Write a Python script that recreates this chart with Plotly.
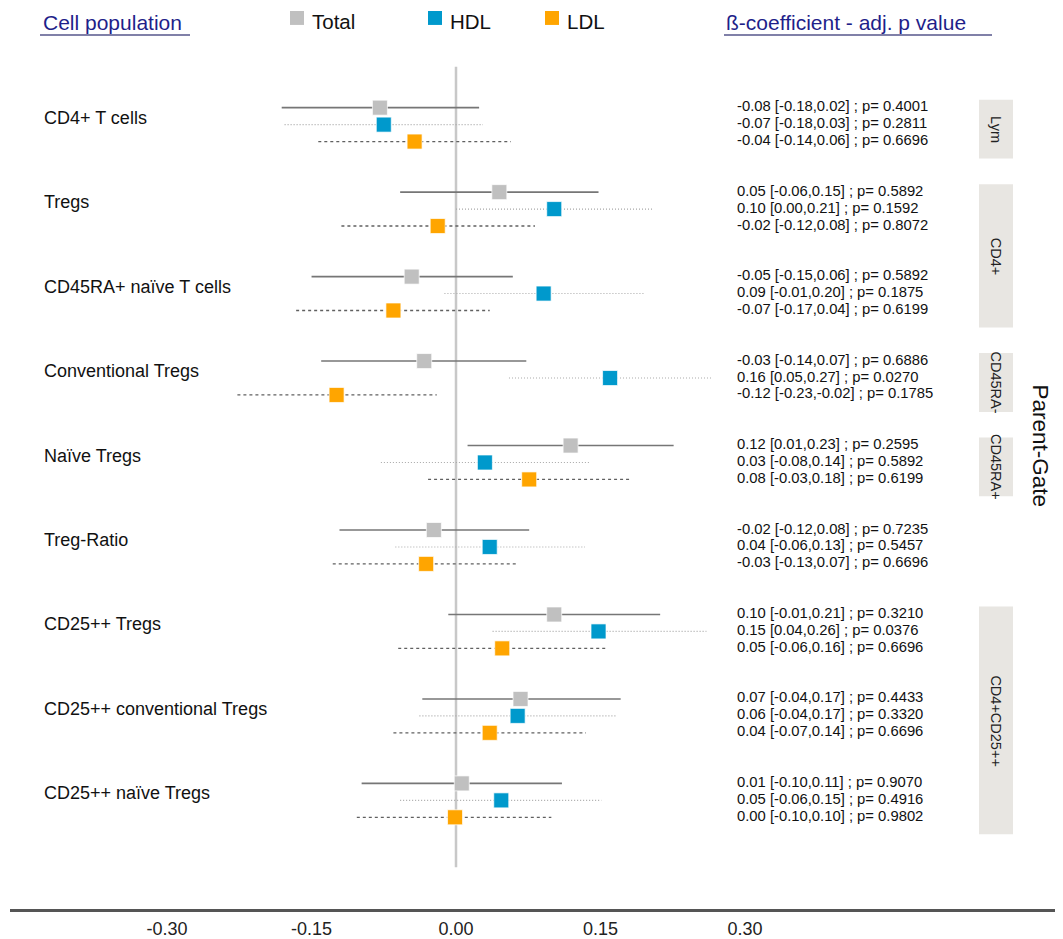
import plotly.graph_objects as go

# ---------------- data ----------------
cell_populations = ["CD4+ T cells", "Tregs", "CD45RA+ naïve T cells", "Conventional Tregs",
                    "Naïve Tregs", "Treg-Ratio", "CD25++ Tregs", "CD25++ conventional Tregs",
                    "CD25++ naïve Tregs"]
series_names = ["Total", "HDL", "LDL"]

total_est = [-0.079, 0.045, -0.046, -0.033, 0.119, -0.023, 0.102, 0.067, 0.006]
total_lo = [-0.181, -0.058, -0.150, -0.140, 0.012, -0.121, -0.008, -0.035, -0.098]
total_hi = [0.024, 0.148, 0.059, 0.073, 0.226, 0.076, 0.212, 0.171, 0.110]

hdl_est = [-0.075, 0.102, 0.091, 0.160, 0.030, 0.035, 0.148, 0.064, 0.047]
hdl_lo = [-0.178, 0.000, -0.012, 0.055, -0.078, -0.063, 0.038, -0.038, -0.058]
hdl_hi = [0.028, 0.204, 0.196, 0.266, 0.138, 0.134, 0.260, 0.166, 0.151]

ldl_est = [-0.043, -0.019, -0.065, -0.124, 0.076, -0.031, 0.048, 0.035, -0.001]
ldl_lo = [-0.143, -0.119, -0.166, -0.227, -0.029, -0.128, -0.060, -0.065, -0.103]
ldl_hi = [0.057, 0.082, 0.035, -0.020, 0.182, 0.063, 0.155, 0.135, 0.099]

total_text = ["-0.08 [-0.18,0.02] ; p= 0.4001", "0.05 [-0.06,0.15] ; p= 0.5892",
              "-0.05 [-0.15,0.06] ; p= 0.5892", "-0.03 [-0.14,0.07] ; p= 0.6886",
              "0.12 [0.01,0.23] ; p= 0.2595", "-0.02 [-0.12,0.08] ; p= 0.7235",
              "0.10 [-0.01,0.21] ; p= 0.3210", "0.07 [-0.04,0.17] ; p= 0.4433",
              "0.01 [-0.10,0.11] ; p= 0.9070"]
hdl_text = ["-0.07 [-0.18,0.03] ; p= 0.2811", "0.10 [0.00,0.21] ; p= 0.1592",
            "0.09 [-0.01,0.20] ; p= 0.1875", "0.16 [0.05,0.27] ; p= 0.0270",
            "0.03 [-0.08,0.14] ; p= 0.5892", "0.04 [-0.06,0.13] ; p= 0.5457",
            "0.15 [0.04,0.26] ; p= 0.0376", "0.06 [-0.04,0.17] ; p= 0.3320",
            "0.05 [-0.06,0.15] ; p= 0.4916"]
ldl_text = ["-0.04 [-0.14,0.06] ; p= 0.6696", "-0.02 [-0.12,0.08] ; p= 0.8072",
            "-0.07 [-0.17,0.04] ; p= 0.6199", "-0.12 [-0.23,-0.02] ; p= 0.1785",
            "0.08 [-0.03,0.18] ; p= 0.6199", "-0.03 [-0.13,0.07] ; p= 0.6696",
            "0.05 [-0.06,0.16] ; p= 0.6696", "0.04 [-0.07,0.14] ; p= 0.6696",
            "0.00 [-0.10,0.10] ; p= 0.9802"]

# parent-gate strips: (label, first group, last group)
strip_labels = ["Lym", "CD4+", "CD45RA-", "CD45RA+", "CD4+CD25++"]
strip_first = [0, 1, 3, 4, 6]
strip_last = [0, 2, 3, 4, 8]

x_tick_vals = [-0.30, -0.15, 0.00, 0.15, 0.30]
x_tick_text = ["-0.30", "-0.15", "0.00", "0.15", "0.30"]

# ---------------- layout geometry (page pixel coordinates) ----------------
PAGE_OFF = 8                      # default body margin of the page
W, H = 1063 - PAGE_OFF, 939 - PAGE_OFF
AXIS_LEFT_PX, AXIS_Y_PX = 10, 912
ML = AXIS_LEFT_PX - PAGE_OFF
MB = (H + PAGE_OFF) - AXIS_Y_PX
X0PX, XSCALE = 456.0, 963.0       # page pixel of x=0, pixels per unit
Y0PX, YSCALE = 125.0, 84.75       # page pixel of group 0 centre, pixels per group
OFF = 17.0 / YSCALE               # row offset within group

def px_x(px):
    return (px - X0PX) / XSCALE

def px_y(py):
    return (py - Y0PX) / YSCALE

x_range = [px_x(AXIS_LEFT_PX), px_x(1063)]
y_range = [px_y(AXIS_Y_PX), px_y(PAGE_OFF)]

COLORS = {"Total": "#c0c0c0", "HDL": "#0099cc", "LDL": "#ffa500"}
LINE = {"Total": dict(color="#767676", width=1.6, dash="solid"),
        "HDL": dict(color="#a8a8a8", width=1.1, dash="1px,2px"),
        "LDL": dict(color="#606060", width=1.3, dash="3px,3px")}

est = {"Total": total_est, "HDL": hdl_est, "LDL": ldl_est}
lo = {"Total": total_lo, "HDL": hdl_lo, "LDL": ldl_lo}
hi = {"Total": total_hi, "HDL": hdl_hi, "LDL": ldl_hi}
txt = {"Total": total_text, "HDL": hdl_text, "LDL": ldl_text}
offs = {"Total": -OFF, "HDL": 0.0, "LDL": OFF}

fig = go.Figure()

# confidence interval lines
for s in series_names:
    xs, ys = [], []
    for g in range(len(cell_populations)):
        yv = g + offs[s]
        xs += [lo[s][g], hi[s][g], None]
        ys += [yv, yv, None]
    fig.add_trace(go.Scatter(x=xs, y=ys, mode="lines", line=LINE[s],
                             showlegend=False, hoverinfo="skip"))

# point estimates
for s in series_names:
    ys = [g + offs[s] for g in range(len(cell_populations))]
    fig.add_trace(go.Scatter(x=est[s], y=ys, mode="markers", name=s,
                             marker=dict(symbol="square", size=15, color=COLORS[s],
                                         line=dict(color="rgba(255,255,255,0.7)", width=1)),
                             showlegend=False))

shapes = []
annotations = []

# zero line
shapes.append(dict(type="line", xref="x", yref="y", x0=0, x1=0,
                   y0=px_y(67), y1=px_y(870), line=dict(color="#c8c8c8", width=2.5),
                   layer="below"))

LABEL_FONT = "Liberation Sans, Arial, sans-serif"

# left labels and right texts
for g, name in enumerate(cell_populations):
    annotations.append(dict(x=px_x(42), y=g - 7 / YSCALE, xref="x", yref="y", text=name,
                            showarrow=False, xanchor="left", yanchor="middle",
                            font=dict(family=LABEL_FONT, size=18, color="#111111")))
    for s in series_names:
        annotations.append(dict(x=px_x(735), y=g + offs[s] - 1.5 / YSCALE, xref="x", yref="y",
                                text=txt[s][g], showarrow=False, xanchor="left",
                                yanchor="middle",
                                font=dict(family=LABEL_FONT, size=14.8, color="#111111")))

# facet strips
for lab, a, b in zip(strip_labels, strip_first, strip_last):
    y0 = a - 25 / YSCALE
    y1 = b + 34 / YSCALE
    shapes.append(dict(type="rect", xref="x", yref="y", x0=px_x(979), x1=px_x(1013),
                       y0=y0, y1=y1, fillcolor="#e8e6e2", line=dict(width=0), layer="below"))
    annotations.append(dict(x=px_x(996), y=(y0 + y1) / 2, xref="x", yref="y", text=lab,
                            showarrow=False, textangle=90,
                            font=dict(family=LABEL_FONT, size=14.5, color="#222222")))

annotations.append(dict(x=px_x(1040), y=px_y(447), xref="x", yref="y", text="Parent-Gate",
                        showarrow=False, textangle=90,
                        font=dict(family=LABEL_FONT, size=22.5, color="#111111")))

# headers
HEAD_COLOR = "#1f1f8a"
annotations.append(dict(x=px_x(41), y=px_y(22.5), xref="x", yref="y", text="Cell population",
                        showarrow=False, xanchor="left",
                        font=dict(family=LABEL_FONT, size=21, color=HEAD_COLOR)))
shapes.append(dict(type="line", xref="x", yref="y", x0=px_x(40), x1=px_x(190),
                   y0=px_y(35), y1=px_y(35), line=dict(color="#8080a8", width=2)))
annotations.append(dict(x=px_x(724), y=px_y(22.5), xref="x", yref="y",
                        text="ß-coefficient - adj. p value", showarrow=False, xanchor="left",
                        font=dict(family=LABEL_FONT, size=21, color=HEAD_COLOR)))
shapes.append(dict(type="line", xref="x", yref="y", x0=px_x(724), x1=px_x(992),
                   y0=px_y(35), y1=px_y(35), line=dict(color="#8080a8", width=2)))

# legend
leg_px = [297, 435, 552]
for s, lx in zip(series_names, leg_px):
    shapes.append(dict(type="rect", xref="x", yref="y", x0=px_x(lx - 7), x1=px_x(lx + 7),
                       y0=px_y(11), y1=px_y(25), fillcolor=COLORS[s], line=dict(width=0)))
    annotations.append(dict(x=px_x(lx + 13), y=px_y(21.5), xref="x", yref="y", text=s,
                            showarrow=False, xanchor="left",
                            font=dict(family=LABEL_FONT, size=20.5, color="#111111")))

fig.update_layout(
    width=W, height=H,
    margin=dict(l=ML, r=0, t=0, b=MB, pad=0),
    plot_bgcolor="white", paper_bgcolor="white",
    shapes=shapes, annotations=annotations,
    xaxis=dict(range=x_range, tickvals=x_tick_vals, ticktext=x_tick_text,
               showgrid=False, zeroline=False, showline=True, linecolor="#555555",
               linewidth=3, ticks="", ticklabelstandoff=1,
               tickfont=dict(family=LABEL_FONT, size=18, color="#222222")),
    yaxis=dict(range=y_range, showgrid=False, zeroline=False, showticklabels=False,
               showline=False),
    showlegend=False,
)

fig.write_html("out.html")
